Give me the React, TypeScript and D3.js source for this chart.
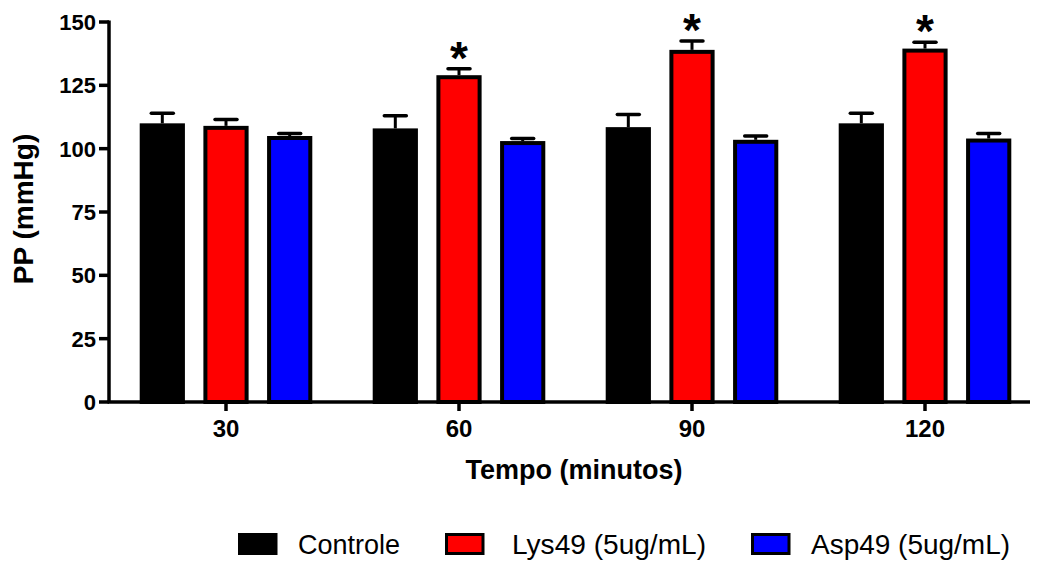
import React, { useEffect, useRef } from "react";
import * as d3 from "d3";

// chart data
const CATEGORIES = ["30", "60", "90", "120"];
const SERIES = ["Controle", "Lys49 (5ug/mL)", "Asp49 (5ug/mL)"];
const CONTROLE = [110, 108, 108.5, 110];
const CONTROLE_ERR = [4, 5, 5, 4];
const LYS49 = [109, 129, 139, 139.5];
const LYS49_ERR = [2.5, 2.5, 3.5, 2.5];
const ASP49 = [105, 103, 103.5, 104];
const ASP49_ERR = [1, 1, 1.5, 2];
const SIGNIFICANT = [false, true, true, true]; // asterisk over Lys49
const Y_TICKS = [0, 25, 50, 75, 100, 125, 150];

const COLORS = ["#000000", "#ff0000", "#0000ff"];
const WIDTH = 1037;
const HEIGHT = 563;
const FONT = "'Liberation Sans', Arial, Helvetica, sans-serif";
const X_LEFT = 109;
const X_RIGHT = 1030;
const Y_TOP = 22;
const Y_BOTTOM = 402;

export default function App() {
  const ref = useRef<SVGSVGElement>(null);

  useEffect(() => {
    const svg = d3.select(ref.current);
    svg.selectAll("*").remove();

    const values = [CONTROLE, LYS49, ASP49];
    const errors = [CONTROLE_ERR, LYS49_ERR, ASP49_ERR];

    const x0 = d3
      .scaleBand()
      .domain(CATEGORIES)
      .range([X_LEFT + 0.5, X_LEFT + 0.5 + 233 * CATEGORIES.length])
      .paddingInner(0.18)
      .paddingOuter(0.09);
    const x1 = d3
      .scaleBand()
      .domain(SERIES)
      .range([0, x0.bandwidth()])
      .paddingInner(0.29)
      .paddingOuter(0.145);
    const y = d3.scaleLinear().domain([0, 150]).range([Y_BOTTOM, Y_TOP]);

    // bars
    const groups = svg
      .append("g")
      .selectAll("g")
      .data(CATEGORIES)
      .join("g")
      .attr("transform", (d) => `translate(${x0(d)},0)`);

    SERIES.forEach((s, si) => {
      groups
        .append("rect")
        .attr("x", (d) => (x1(s) as number) + 2)
        .attr("width", x1.bandwidth() - 4)
        .attr("y", (d, i) => y(values[si][i]) + 2)
        .attr("height", (d, i) => Y_BOTTOM - y(values[si][i]) - 2)
        .attr("fill", COLORS[si])
        .attr("stroke", "#000")
        .attr("stroke-width", 4);

      // upper error bars
      const cx = (x1(s) as number) + x1.bandwidth() / 2;
      groups
        .append("line")
        .attr("x1", cx)
        .attr("x2", cx)
        .attr("y1", (d, i) => y(values[si][i]))
        .attr("y2", (d, i) => y(values[si][i] + errors[si][i]))
        .attr("stroke", "#000")
        .attr("stroke-width", 3);
      groups
        .append("line")
        .attr("x1", cx - 11)
        .attr("x2", cx + 11)
        .attr("y1", (d, i) => y(values[si][i] + errors[si][i]))
        .attr("y2", (d, i) => y(values[si][i] + errors[si][i]))
        .attr("stroke", "#000")
        .attr("stroke-width", 3.5)
        .attr("stroke-linecap", "round");
    });

    // asterisks
    const lysX = (x1(SERIES[1]) as number) + x1.bandwidth() / 2;
    groups
      .filter((d, i) => SIGNIFICANT[i])
      .append("text")
      .attr("x", lysX)
      .attr("y", (d) => {
        const i = CATEGORIES.indexOf(d);
        return y(LYS49[i] + LYS49_ERR[i]) + 5;
      })
      .attr("text-anchor", "middle")
      .attr("font-family", FONT)
      .attr("font-weight", "bold")
      .attr("font-size", 46)
      .text("*");

    // y axis
    const yAxis = svg.append("g").attr("transform", `translate(${X_LEFT},0)`);
    yAxis
      .append("line")
      .attr("y1", Y_TOP - 1.5)
      .attr("y2", Y_BOTTOM)
      .attr("stroke", "#000")
      .attr("stroke-width", 3.5);
    yAxis
      .selectAll("line.tick")
      .data(Y_TICKS)
      .join("line")
      .attr("class", "tick")
      .attr("x1", -10)
      .attr("x2", 0)
      .attr("y1", (d) => y(d))
      .attr("y2", (d) => y(d))
      .attr("stroke", "#000")
      .attr("stroke-width", 3.5);
    yAxis
      .selectAll("text")
      .data(Y_TICKS)
      .join("text")
      .attr("x", -13)
      .attr("y", (d) => y(d))
      .attr("dy", "0.36em")
      .attr("text-anchor", "end")
      .attr("font-family", FONT)
      .attr("font-weight", "bold")
      .attr("font-size", 22)
      .text((d) => d);

    // x axis
    const xAxis = svg.append("g").attr("transform", `translate(0,${Y_BOTTOM})`);
    xAxis
      .append("line")
      .attr("x1", X_LEFT - 1.5)
      .attr("x2", X_RIGHT)
      .attr("stroke", "#000")
      .attr("stroke-width", 3.5);
    xAxis
      .selectAll("line.tick")
      .data(CATEGORIES)
      .join("line")
      .attr("class", "tick")
      .attr("x1", (d) => (x0(d) as number) + x0.bandwidth() / 2)
      .attr("x2", (d) => (x0(d) as number) + x0.bandwidth() / 2)
      .attr("y1", 0)
      .attr("y2", 9)
      .attr("stroke", "#000")
      .attr("stroke-width", 3.5);
    xAxis
      .selectAll("text")
      .data(CATEGORIES)
      .join("text")
      .attr("x", (d) => (x0(d) as number) + x0.bandwidth() / 2)
      .attr("y", 35)
      .attr("text-anchor", "middle")
      .attr("font-family", FONT)
      .attr("font-weight", "bold")
      .attr("font-size", 24)
      .text((d) => d);

    // axis titles
    svg
      .append("text")
      .attr("x", 574)
      .attr("y", 479)
      .attr("text-anchor", "middle")
      .attr("font-family", FONT)
      .attr("font-weight", "bold")
      .attr("font-size", 27)
      .text("Tempo (minutos)");
    svg
      .append("text")
      .attr("transform", "translate(33,209) rotate(-90)")
      .attr("text-anchor", "middle")
      .attr("font-family", FONT)
      .attr("font-weight", "bold")
      .attr("font-size", 28)
      .text("PP (mmHg)");

    // legend
    const LEGEND_X = [238, 445, 751];
    const LEGEND_TEXT_DX = [60, 67, 60];
    const LEGEND_TEXT_W = [102, 194, 199];
    const legend = svg
      .append("g")
      .selectAll("g")
      .data(SERIES)
      .join("g")
      .attr("transform", (d, i) => `translate(${LEGEND_X[i]},533)`);
    legend
      .append("rect")
      .attr("x", 1.5)
      .attr("y", 1.5)
      .attr("width", 36.5)
      .attr("height", 19)
      .attr("fill", (d, i) => COLORS[i])
      .attr("stroke", "#000")
      .attr("stroke-width", 3);
    legend
      .append("text")
      .attr("x", (d, i) => LEGEND_TEXT_DX[i])
      .attr("y", 21)
      .attr("font-family", FONT)
      .attr("font-size", 27.5)
      .attr("textLength", (d, i) => LEGEND_TEXT_W[i])
      .attr("lengthAdjust", "spacingAndGlyphs")
      .text((d) => d);
  }, []);

  return (
    <svg
      ref={ref}
      width={WIDTH}
      height={HEIGHT}
      style={{ position: "absolute", left: 0, top: 0, background: "#fff" }}
    />
  );
}
